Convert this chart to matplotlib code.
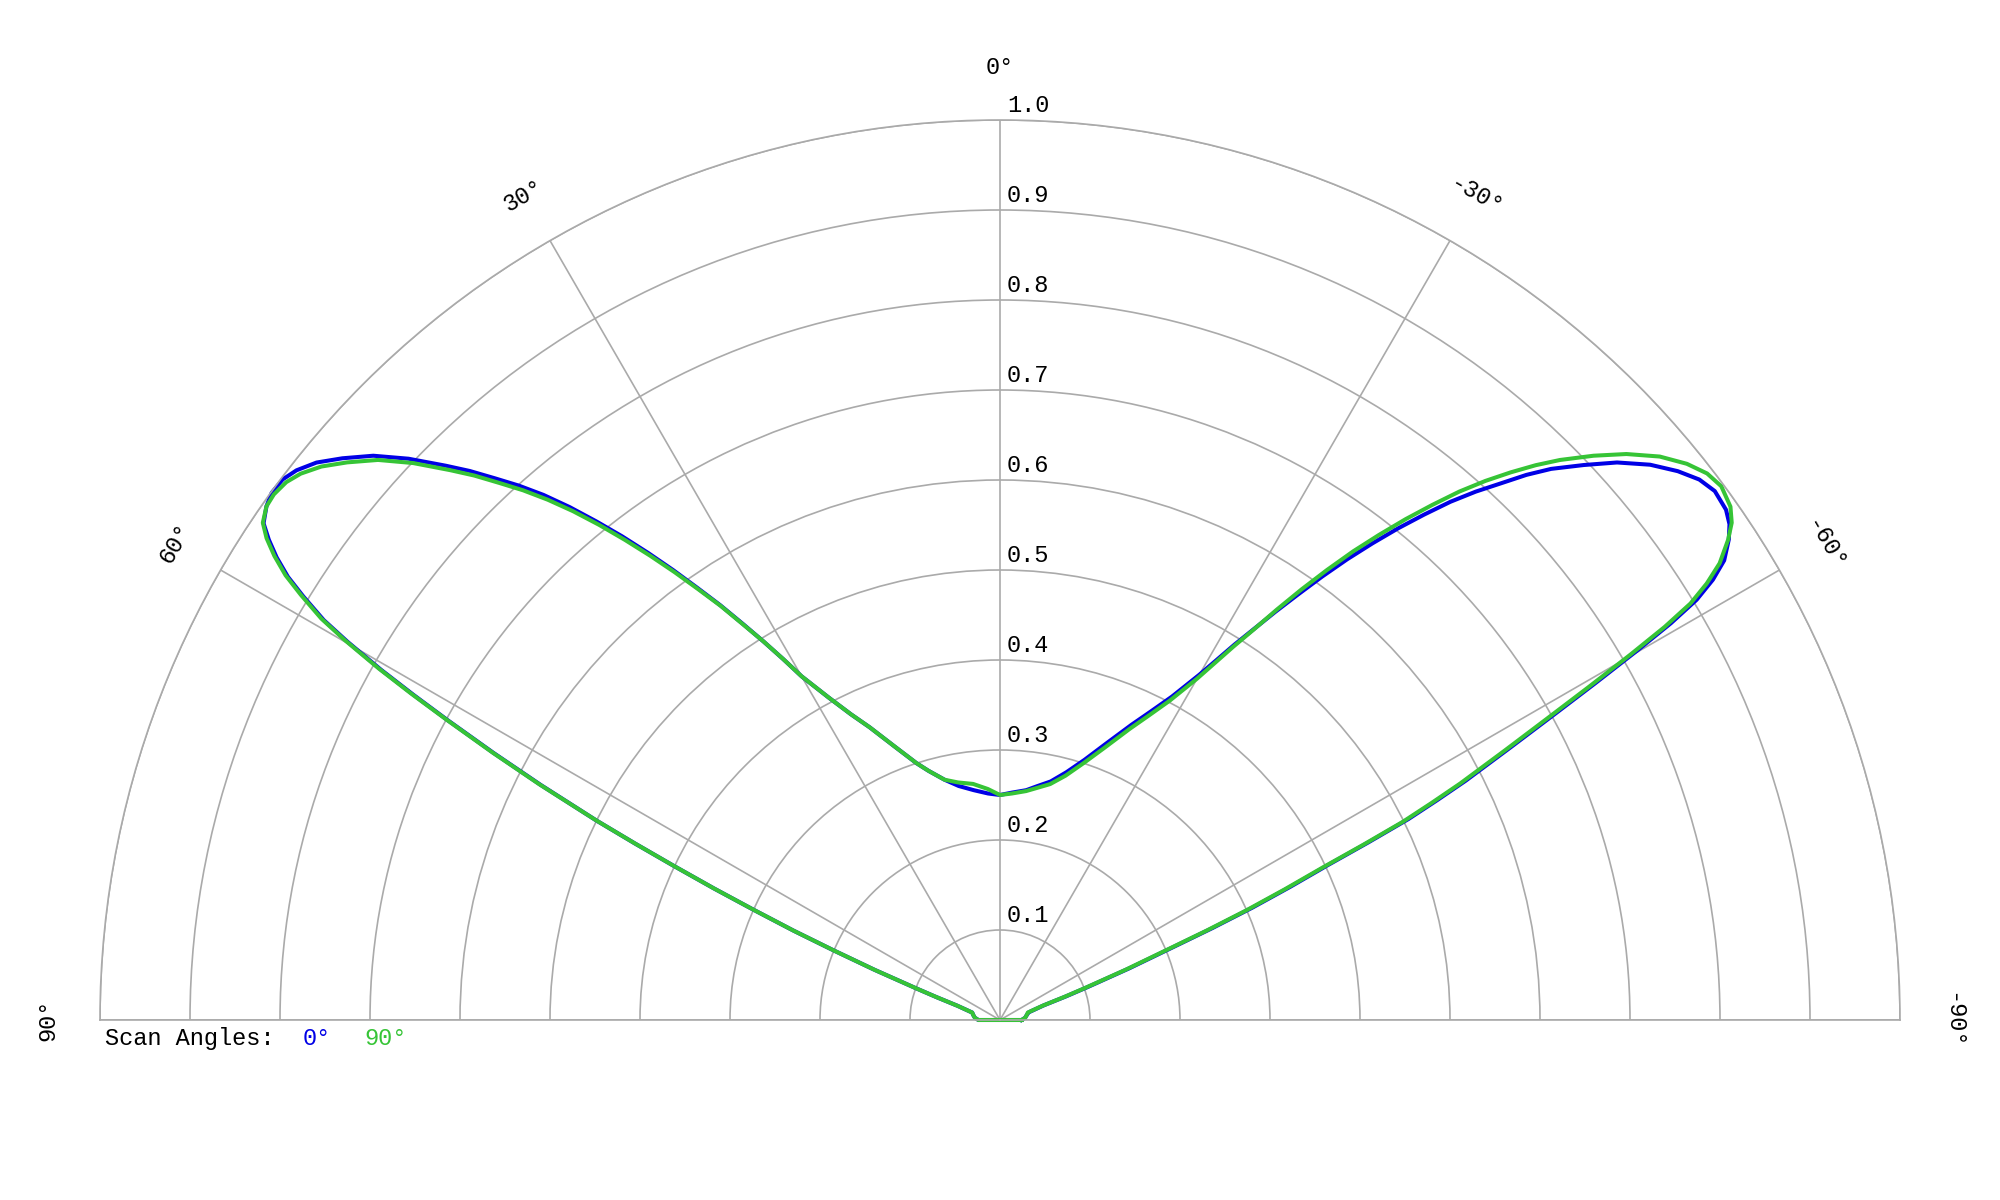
import numpy as np
import matplotlib.pyplot as plt
from matplotlib.transforms import ScaledTranslation

plt.rcParams['font.family'] = ['Liberation Mono', 'DejaVu Sans Mono']

# angles in degrees (0 = broadside, positive to the left)
theta_deg = [-90, -85, -80, -75, -71.5, -70.3, -69.4, -68.2, -67.2, -66.6,
             -66, -65.35, -64.7, -64.25, -63.8, -63.3, -62.8, -61.9, -61.1, -60.5,
             -59.9, -59.4, -58.9, -58.3, -57.6, -56.6, -55.8, -54.9, -53.5, -52.3,
             -51, -49.5, -47.9, -46.45, -45, -44, -43, -42, -41, -40,
             -39, -38, -37, -36, -35, -34, -33, -32, -31, -30,
             -28, -26, -24, -21, -18, -15, -12, -9, -6.5, -3,
             0,
             3, 6.5, 10, 13, 16, 18, 21, 24, 26, 28,
             30, 31, 32, 33, 34, 35, 36, 37, 38, 39,
             40, 41, 42, 43, 44, 45, 46.5, 48, 49.5, 50.8,
             52, 53, 54.1, 55, 56, 56.7, 57.4, 58.1, 58.7, 59.4,
             59.9, 60.5, 61, 61.5, 62.2, 62.9, 63.7, 64.2, 64.7, 65.3,
             65.9, 66.6, 67.3, 68.2, 69.3, 70.2, 71.5, 75, 80, 85,
             90]

# scan angle 0 deg (blue)
r_scan_0 = [0.024, 0.028, 0.030, 0.033, 0.051, 0.078, 0.104, 0.155, 0.207, 0.257,
            0.307, 0.355, 0.404, 0.455, 0.506, 0.544, 0.582, 0.643, 0.706, 0.760,
            0.818, 0.866, 0.904, 0.931, 0.953, 0.970, 0.980, 0.986, 0.988, 0.982,
            0.969, 0.950, 0.924, 0.895, 0.866, 0.842, 0.815, 0.790, 0.763, 0.733,
            0.703, 0.672, 0.641, 0.609, 0.577, 0.547, 0.518, 0.492, 0.466, 0.443,
            0.407, 0.381, 0.359, 0.329, 0.304, 0.285, 0.271, 0.263, 0.257, 0.253,
            0.250,
            0.252, 0.257, 0.264, 0.274, 0.288, 0.300, 0.325, 0.356, 0.378, 0.406,
            0.441, 0.468, 0.496, 0.525, 0.556, 0.586, 0.618, 0.650, 0.682, 0.713,
            0.744, 0.773, 0.799, 0.823, 0.848, 0.871, 0.906, 0.937, 0.961, 0.980,
            0.992, 0.998, 0.999, 0.995, 0.987, 0.972, 0.954, 0.932, 0.906, 0.873,
            0.838, 0.790, 0.745, 0.699, 0.636, 0.573, 0.500, 0.450, 0.402, 0.350,
            0.300, 0.250, 0.200, 0.150, 0.100, 0.075, 0.050, 0.032, 0.030, 0.028,
            0.024]

# scan angle 90 deg (green)
r_scan_90 = [0.024, 0.028, 0.030, 0.032, 0.050, 0.075, 0.100, 0.150, 0.201, 0.250,
             0.300, 0.348, 0.397, 0.448, 0.499, 0.537, 0.575, 0.636, 0.698, 0.752,
             0.810, 0.858, 0.896, 0.923, 0.947, 0.969, 0.983, 0.992, 0.997, 0.993,
             0.982, 0.964, 0.938, 0.910, 0.880, 0.857, 0.832, 0.806, 0.778, 0.747,
             0.716, 0.684, 0.652, 0.618, 0.584, 0.550, 0.517, 0.489, 0.462, 0.438,
             0.402, 0.376, 0.354, 0.324, 0.300, 0.281, 0.268, 0.261, 0.256, 0.252,
             0.250,
             0.257, 0.264, 0.268, 0.274, 0.288, 0.300, 0.325, 0.356, 0.378, 0.406,
             0.441, 0.468, 0.496, 0.524, 0.555, 0.584, 0.615, 0.646, 0.677, 0.708,
             0.738, 0.766, 0.792, 0.816, 0.841, 0.864, 0.899, 0.930, 0.954, 0.973,
             0.986, 0.993, 0.996, 0.995, 0.988, 0.975, 0.957, 0.935, 0.909, 0.876,
             0.841, 0.793, 0.748, 0.701, 0.638, 0.575, 0.500, 0.450, 0.402, 0.350,
             0.300, 0.250, 0.200, 0.150, 0.100, 0.075, 0.050, 0.032, 0.030, 0.028,
             0.024]

r_ticks = [0.1, 0.2, 0.3, 0.4, 0.5, 0.6, 0.7, 0.8, 0.9, 1.0]
angle_ticks = [-90, -60, -30, 0, 30, 60, 90]
scan_labels = ['0°', '90°']
scan_colors = ['#0000e6', '#36c436']

grid_col = '#aaaaaa'
fs = 17

fig = plt.figure(figsize=(20, 12), dpi=100)
# square axes (1800 px); the half wedge sits in its middle band,
# which puts the origin at (1000, 1020) px and radius 1.0 at 900 px
ax = fig.add_axes([0.05, -0.225, 0.9, 1.5], projection='polar')
ax.set_theta_zero_location('N')
ax.set_theta_direction(1)
ax.set_thetamin(-90)
ax.set_thetamax(90)
ax.set_ylim(0, 1)

ax.set_xticks(np.deg2rad(angle_ticks))
ax.set_xticklabels([''] * len(angle_ticks))
ax.set_yticks(r_ticks)
ax.set_yticklabels([''] * len(r_ticks))
ax.tick_params(length=0)
ax.grid(True, color=grid_col, lw=1.2)
for sp in ax.spines.values():
    sp.set_color(grid_col)
    sp.set_linewidth(1.2)

# radial labels just right of the 0 deg spoke
offset = ScaledTranslation(0.07, 0.08, fig.dpi_scale_trans)
for r in r_ticks:
    ax.text(0, r, f'{r:.1f}', transform=ax.transData + offset,
            ha='left', va='baseline', fontsize=fs)

# angle labels around the rim, rotated with the angle
for a in angle_ticks:
    ax.text(np.deg2rad(a), 1.058, f'{a}°', rotation=a, rotation_mode='anchor',
            ha='center', va='center', fontsize=fs)

# closed curves
th = np.deg2rad(theta_deg + [theta_deg[0]])
ax.plot(th, r_scan_0 + [r_scan_0[0]], color=scan_colors[0], lw=2.9,
        solid_joinstyle='round', clip_on=False)
ax.plot(th, r_scan_90 + [r_scan_90[0]], color=scan_colors[1], lw=2.9,
        solid_joinstyle='round', clip_on=False)

# legend line under the plot
ytxt = 1 - 1045 / 1200
fig.text(105 / 2000, ytxt, 'Scan Angles:', ha='left', va='baseline', fontsize=fs)
fig.text(303 / 2000, ytxt, scan_labels[0], color=scan_colors[0], ha='left', va='baseline', fontsize=fs)
fig.text(364 / 2000, ytxt, scan_labels[1], color=scan_colors[1], ha='left', va='baseline', fontsize=fs)

fig.savefig('out.png', dpi=100)
